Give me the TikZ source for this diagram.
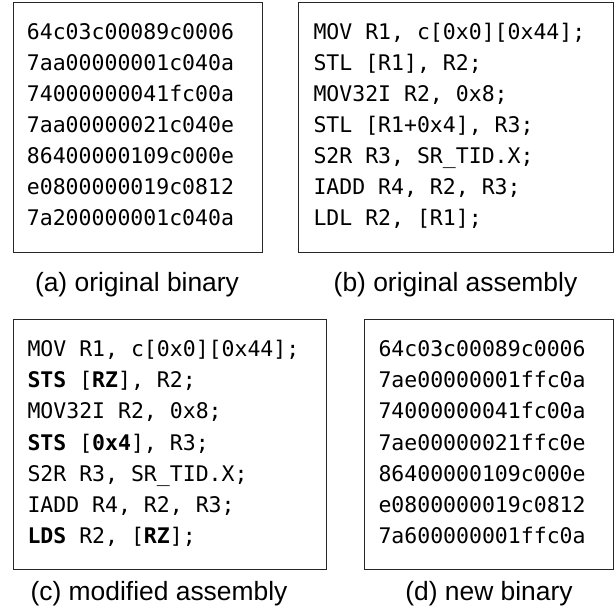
\documentclass[tikz,border=0pt]{standalone}
\usepackage{fontspec}
\setmainfont{Liberation Sans}
\setmonofont{DejaVu Sans Mono}
\newcommand{\codeblock}[1]{\vtop{\baselineskip=31.1pt\lineskiplimit=-100pt\lineskip=0pt #1}}
\tikzset{
  box/.style={draw=black!85, line width=1pt, inner sep=0pt, fill=white},
  codetext/.style={anchor=base west, inner sep=0pt, font=\ttfamily\fontsize{21.5}{31.1}\selectfont},
  captext/.style={anchor=base, inner sep=0pt, font=\fontsize{26.4}{30}\selectfont}
}
\begin{document}
\begin{tikzpicture}[x=1pt,y=-1pt]
\useasboundingbox (0,0) rectangle (614,614);
% boxes
\node[box, minimum width=248.7pt, minimum height=249.6pt] (boxa) at (137.65,127.5) {};
\node[box, minimum width=315pt, minimum height=250pt] (boxb) at (455.5,127.8) {};
\node[box, minimum width=313.4pt, minimum height=250pt] (boxc) at (170,444.3) {};
\node[box, minimum width=249pt, minimum height=250pt] (boxd) at (488.5,444.3) {};
% code
\node[codetext] (codea) at (26.7,39.3) {\codeblock{%
\hbox{64c03c00089c0006}
\hbox{7aa00000001c040a}
\hbox{74000000041fc00a}
\hbox{7aa00000021c040e}
\hbox{86400000109c000e}
\hbox{e0800000019c0812}
\hbox{7a200000001c040a}}};
\node[codetext] (codeb) at (313.3,39.3) {\codeblock{%
\hbox{MOV R1, c[0x0][0x44];}
\hbox{STL [R1], R2;}
\hbox{MOV32I R2, 0x8;}
\hbox{STL [R1+0x4], R3;}
\hbox{S2R R3, SR\_TID.X;}
\hbox{IADD R4, R2, R3;}
\hbox{LDL R2, [R1];}}};
\node[codetext] (codec) at (27.3,356.7) {\codeblock{%
\hbox{MOV R1, c[0x0][0x44];}
\hbox{\textbf{STS} [\textbf{RZ}], R2;}
\hbox{MOV32I R2, 0x8;}
\hbox{\textbf{STS} [\textbf{0x4}], R3;}
\hbox{S2R R3, SR\_TID.X;}
\hbox{IADD R4, R2, R3;}
\hbox{\textbf{LDS} R2, [\textbf{RZ}];}}};
\node[codetext] (coded) at (378.3,356.7) {\codeblock{%
\hbox{64c03c00089c0006}
\hbox{7ae00000001ffc0a}
\hbox{74000000041fc00a}
\hbox{7ae00000021ffc0e}
\hbox{86400000109c000e}
\hbox{e0800000019c0812}
\hbox{7a600000001ffc0a}}};
% captions
\node[captext] (capa) at (137,291) {(a) original binary};
\node[captext] (capb) at (455.5,291) {(b) original assembly};
\node[captext] (capc) at (159,600) {(c) modified assembly};
\node[captext] (capd) at (489,600) {(d) new binary};
\end{tikzpicture}
\end{document}
